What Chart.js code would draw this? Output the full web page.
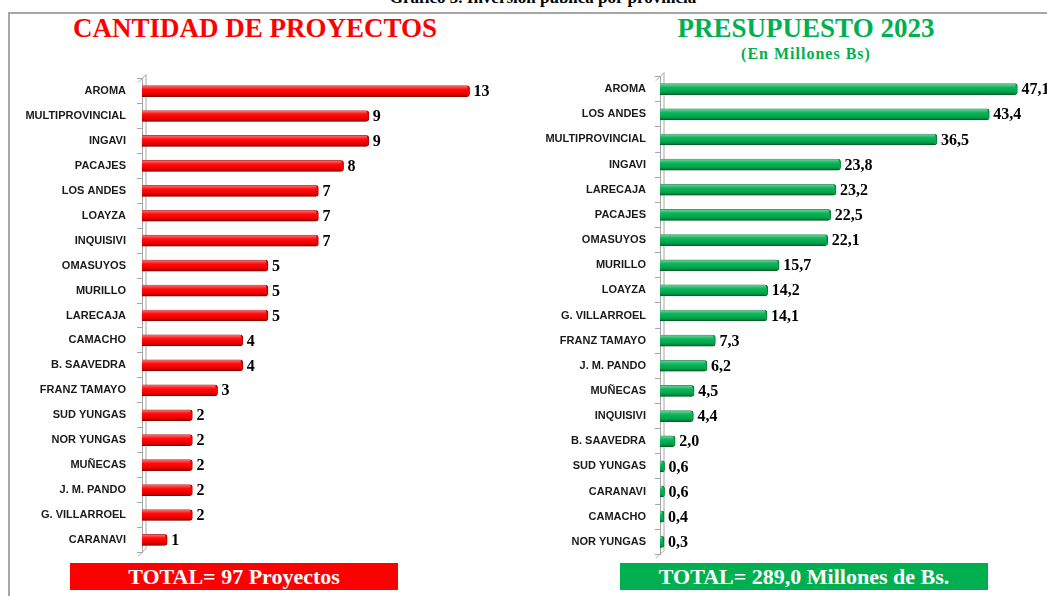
<!DOCTYPE html>
<html>
<head>
<meta charset="utf-8">
<script src="https://cdn.jsdelivr.net/npm/chart.js@4.4.0/dist/chart.umd.min.js"></script>
<style>
  body { margin: 0; background: #fff; width: 1047px; height: 596px; overflow: hidden; position: relative; font-family: "Liberation Serif", "Times New Roman", serif; }
  .abs { position: absolute; }
  #frame { left: 8px; top: 12px; width: 1100px; height: 700px; border-top: 2px solid #a6a6a6; border-left: 2px solid #a6a6a6; }
  #heading { left: 0; width: 1086px; top: -11px; text-align: center; font-weight: bold; font-size: 17px; line-height: 1; color: #000; }
  .title { font-weight: bold; font-size: 27px; line-height: 1; text-align: center; white-space: nowrap; }
  .total { height: 27px; line-height: 28px; color: #fff; font-weight: bold; font-size: 22px; text-align: center; white-space: nowrap; }
</style>
</head>
<body>
<div id="frame" class="abs"></div>
<div id="heading" class="abs">Gráfico 5. Inversión pública por provincia</div>

<div class="abs title" style="left:55px; width:400px; top:15px; color:#ff0000;">CANTIDAD DE PROYECTOS</div>
<div class="abs title" style="left:606px; width:400px; top:15px; color:#00b050;">PRESUPUESTO 2023</div>
<div class="abs title" style="left:606px; width:400px; top:46px; font-size:16px; letter-spacing:1px; color:#00b050;">(En Millones Bs)</div>

<div class="abs" style="left:10px; top:61px; width:510px; height:509px;"><canvas id="proyectos"></canvas></div>
<div class="abs" style="left:530px; top:61px; width:517px; height:509px;"><canvas id="presupuesto"></canvas></div>

<div class="abs total" style="left:70px; width:328px; top:563px; background:#ff0000;">TOTAL= 97 Proyectos</div>
<div class="abs total" style="left:620px; width:368px; top:563px; background:#00b050;">TOTAL= 289,0 Millones de Bs.</div>

<script>
// provinces and number of projects (left chart)
var provLeft = ["AROMA", "MULTIPROVINCIAL", "INGAVI", "PACAJES", "LOS ANDES", "LOAYZA", "INQUISIVI", "OMASUYOS", "MURILLO", "LARECAJA", "CAMACHO", "B. SAAVEDRA", "FRANZ TAMAYO", "SUD YUNGAS", "NOR YUNGAS", "MUÑECAS", "J. M. PANDO", "G. VILLARROEL", "CARANAVI"];
var proyectos = [13, 9, 9, 8, 7, 7, 7, 5, 5, 5, 4, 4, 3, 2, 2, 2, 2, 2, 1];

// provinces and budget 2023 in millions Bs (right chart)
var provRight = ["AROMA", "LOS ANDES", "MULTIPROVINCIAL", "INGAVI", "LARECAJA", "PACAJES", "OMASUYOS", "MURILLO", "LOAYZA", "G. VILLARROEL", "FRANZ TAMAYO", "J. M. PANDO", "MUÑECAS", "INQUISIVI", "B. SAAVEDRA", "SUD YUNGAS", "CARANAVI", "CAMACHO", "NOR YUNGAS"];
var presupuesto = [47.1, 43.4, 36.5, 23.8, 23.2, 22.5, 22.1, 15.7, 14.2, 14.1, 7.3, 6.2, 4.5, 4.4, 2.0, 0.6, 0.6, 0.4, 0.3];

// shine on the bars so they look like cylinders, plus the value after each bar
var barDeco = {
    id: 'barDeco',
    afterDatasetsDraw: function(chart, args, opts) {
        var ctx = chart.ctx;
        var meta = chart.getDatasetMeta(0);
        var data = chart.data.datasets[0].data;
        ctx.save();
        meta.data.forEach(function(el, i) {
            var h = el.height, top = el.y - h / 2;
            var g = ctx.createLinearGradient(0, top, 0, top + h);
            g.addColorStop(0, 'rgba(255,255,255,0.45)');
            g.addColorStop(0.35, 'rgba(255,255,255,0.05)');
            g.addColorStop(0.7, 'rgba(0,0,0,0.05)');
            g.addColorStop(1, 'rgba(0,0,0,0.35)');
            ctx.fillStyle = g;
            ctx.fillRect(el.base, top, el.x - el.base - 2, h);
            // value label
            ctx.fillStyle = '#000';
            ctx.font = 'bold 16px "Liberation Serif"';
            ctx.textBaseline = 'middle';
            ctx.textAlign = 'left';
            ctx.fillText(opts.format(data[i]), el.x + 4, el.y + 1);
        });
        ctx.restore();
    },
    beforeDatasetsDraw: function(chart) {
        // back wall of the 3d axis
        var ctx = chart.ctx, a = chart.chartArea;
        ctx.save();
        ctx.strokeStyle = '#a6a6a6';
        ctx.lineWidth = 1;
        ctx.beginPath();
        ctx.moveTo(a.left - 4, a.top + 4);
        ctx.lineTo(a.left + 4, a.top - 4);
        ctx.lineTo(a.left + 4, a.bottom - 4);
        ctx.lineTo(a.left - 4, a.bottom + 4);
        ctx.stroke();
        ctx.restore();
    }
};

function makeChart(id, labels, values, color, edge, maxX, axisWidth, pad, fmt) {
    var ctx = document.getElementById(id).getContext('2d');
    return new Chart(ctx, {
        type: 'bar',
        data: {
            labels: labels,
            datasets: [{
                data: values,
                backgroundColor: color,
                borderColor: edge,
                borderWidth: 1,
                borderRadius: 3,
                borderSkipped: 'start',
                barThickness: 11,
                minBarLength: 4
            }]
        },
        options: {
            indexAxis: 'y',
            responsive: true,
            maintainAspectRatio: false,
            animation: false,
            layout: { padding: { top: 0, bottom: 0, left: 0, right: 0 } },
            plugins: {
                legend: { display: false },
                tooltip: { enabled: false },
                barDeco: { format: fmt }
            },
            scales: {
                x: { display: false, min: 0, max: maxX },
                y: {
                    afterFit: function(s) { s.width = axisWidth; },
                    grid: { display: true, offset: true, drawOnChartArea: false, drawTicks: true, tickLength: 5, color: '#a6a6a6' },
                    border: { display: true, color: '#a6a6a6' },
                    ticks: { padding: pad, color: '#1a1a1a', font: { family: 'Liberation Sans, Arial', size: 11, weight: 'bold' } }
                }
            }
        },
        plugins: [barDeco]
    });
}

makeChart('proyectos', provLeft, proyectos, '#ff0000', '#b00000', 15, 132, 11,
    function(v) { return String(v); });
makeChart('presupuesto', provRight, presupuesto, '#00b050', '#007a36', 51, 130, 9,
    function(v) { return v.toFixed(1).replace('.', ','); });
</script>
</body>
</html>
